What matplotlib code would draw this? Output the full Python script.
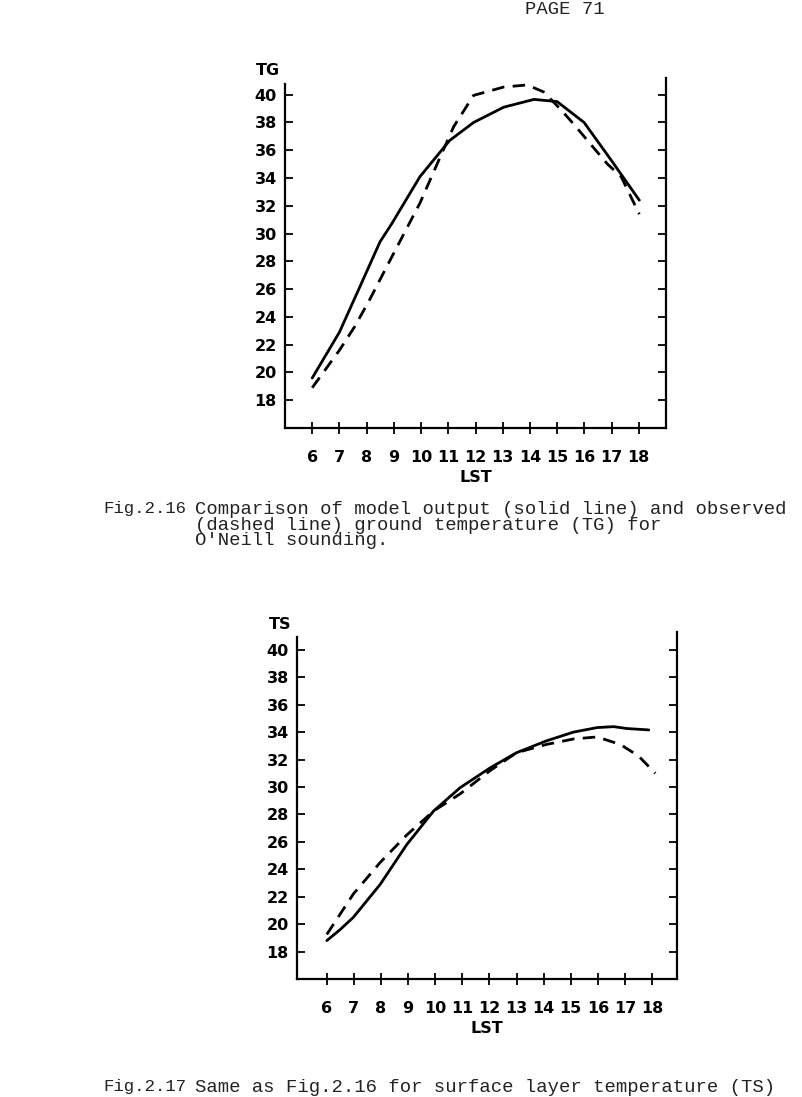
import matplotlib.pyplot as plt

# ground temperature TG (Fig. 2.16)
tg_model_hr = [6.0, 7.0, 7.69, 8.49, 8.92, 9.96, 11.05, 11.93, 13.04, 14.15, 15.0, 15.99, 16.98, 18.02]
tg_model = [19.6, 22.9, 25.9, 29.4, 30.7, 34.1, 36.7, 38.0, 39.1, 39.66, 39.5, 38.0, 35.3, 32.4]
tg_obs_hr = [6.0, 7.0, 7.56, 8.1, 8.92, 9.96, 10.7, 11.2, 11.93, 13.04, 13.9, 14.5, 15.1, 15.6, 16.2, 16.85, 17.35, 18.02]
tg_obs = [18.9, 21.6, 23.3, 25.2, 28.3, 32.2, 35.5, 37.7, 39.95, 40.55, 40.7, 40.2, 39.0, 37.9, 36.5, 35.0, 34.1, 31.4]

# surface layer temperature TS (Fig. 2.17)
ts_model_hr = [6.0, 6.49, 6.98, 7.97, 8.46, 8.95, 9.94, 10.92, 12.03, 13.0, 14.1, 15.1, 15.97, 16.58, 17.08, 17.88]
ts_model = [18.8, 19.6, 20.5, 22.9, 24.35, 25.8, 28.25, 29.95, 31.4, 32.5, 33.36, 34.0, 34.33, 34.4, 34.26, 34.16]
ts_obs_hr = [6.0, 6.98, 7.97, 8.95, 9.94, 10.92, 12.03, 13.0, 14.1, 15.1, 15.97, 16.83, 17.5, 18.12]
ts_obs = [19.25, 22.2, 24.5, 26.5, 28.25, 29.5, 31.2, 32.5, 33.1, 33.5, 33.65, 33.1, 32.26, 31.0]

hours = list(range(6, 19))
temps = list(range(18, 41, 2))

W, H = 802, 1097
fig = plt.figure(figsize=(W / 100, H / 100), dpi=100)
fig.patch.set_facecolor("white")

lab_font = dict(family="DejaVu Sans", weight="bold", size=11.5)


def make_panel(rect_px, xlim, ylim, left_top, x_hr, solid, xo_hr, dashed, ylab):
    x0, y_bot, x1, y_top = rect_px
    ax = fig.add_axes([x0 / W, 1 - y_bot / H, (x1 - x0) / W, (y_bot - y_top) / H])
    ax.plot(x_hr, solid, color="black", lw=2.0, solid_capstyle="round")
    ax.plot(xo_hr, dashed, color="black", lw=2.0, dashes=(4.5, 3))
    ax.set_xlim(*xlim)
    ax.set_ylim(*ylim)
    ax.spines["top"].set_visible(False)
    for s in ["left", "right", "bottom"]:
        ax.spines[s].set_linewidth(1.6)
    ax.spines["left"].set_bounds(ylim[0], left_top)
    ax.set_xticks(hours)
    ax.set_xticklabels([str(h) for h in hours], **lab_font)
    ax.set_yticks(temps)
    ax.set_yticklabels([str(t) for t in temps], **lab_font)
    ax.tick_params(axis="x", direction="inout", length=9, width=1.3, pad=11)
    ax.tick_params(axis="y", direction="in", length=6, width=1.3, pad=6,
                   right=True, labelright=False)
    ax.set_xlabel("LST", fontdict=lab_font, labelpad=4)
    ax.text(-0.045, 1.0, ylab, transform=ax.transAxes, ha="center", va="bottom", **lab_font)
    return ax


make_panel((285, 428, 666, 78), (5, 19), (16, 41.2), 40.8,
           tg_model_hr, tg_model, tg_obs_hr, tg_obs, "TG")
make_panel((297, 979, 677, 632), (4.9, 18.92), (16, 41.3), 40.9,
           ts_model_hr, ts_model, ts_obs_hr, ts_obs, "TS")

mono = dict(family="Liberation Mono", size=13.6, color="#222222")
fig_lab = dict(family="Liberation Mono", size=12.5, color="#222222")
fig.text(565 / W, 1 - 9 / H, "PAGE 71", ha="center", va="center", **mono)
fig.text(103 / W, 1 - 509 / H, "Fig.2.16", ha="left", va="center", **fig_lab)
fig.text(195 / W, 1 - 509 / H, "Comparison of model output (solid line) and observed",
         ha="left", va="center", **mono)
fig.text(195 / W, 1 - 525 / H, "(dashed line) ground temperature (TG) for",
         ha="left", va="center", **mono)
fig.text(195 / W, 1 - 541 / H, "O'Neill sounding.", ha="left", va="center", **mono)
fig.text(103 / W, 1 - 1087 / H, "Fig.2.17", ha="left", va="center", **fig_lab)
fig.text(195 / W, 1 - 1087 / H, "Same as Fig.2.16 for surface layer temperature (TS)",
         ha="left", va="center", **mono)

fig.savefig("out.png", dpi=100)
